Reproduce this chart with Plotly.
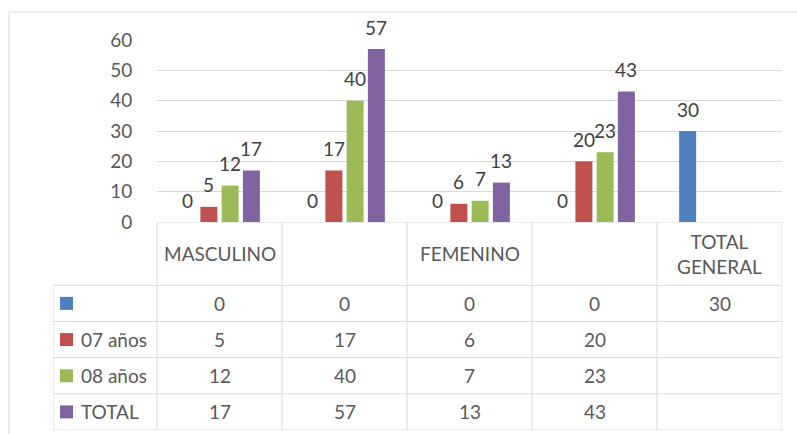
import plotly.graph_objects as go

# ---- data ----
categories = ["MASCULINO", "", "FEMENINO", "", "TOTAL<br>GENERAL"]
series_names = ["", "07 años", "08 años", "TOTAL"]
serie_blank = [0, 0, 0, 0, 30]
serie_07 = [5, 17, 6, 20, None]
serie_08 = [12, 40, 7, 23, None]
serie_total = [17, 57, 13, 43, None]
y_ticks = [0, 10, 20, 30, 40, 50, 60]

series_values = [serie_blank, serie_07, serie_08, serie_total]
colors = ["#4F81BD", "#C0504D", "#9BBB59", "#8064A2"]

W, H = 797, 434
def px(x):
    return x / W
def py(y):
    return 1 - y / H

FONT = "Lato"
TXT = "#595959"
LBL = "#404040"
GRID = "#D9D9D9"
FS = 19

plot_l, plot_r, plot_t, plot_b = 157, 782, 40, 222
tab_l, tab_b = 53, 430
ncat = len(categories)
cat_px = (plot_r - plot_l) / ncat
leg_w = (plot_l - tab_l) / cat_px
header_h = 1.75
nrows = len(series_names)

bargap, bargroupgap = 0.32, 0.2
nser = len(series_values)
slot = (1 - bargap) / nser

fig = go.Figure()
xs = list(range(ncat))
for name, vals, col in zip(series_names, series_values, colors):
    fig.add_trace(go.Bar(x=xs, y=vals, name=name, marker=dict(color=col, line=dict(width=0)),
                         showlegend=False, hoverinfo="y"))

annotations = []
# data labels
for i, vals in enumerate(series_values):
    for j, v in enumerate(vals):
        if v is None:
            continue
        annotations.append(dict(x=j + (i - (nser - 1) / 2) * slot, y=v, xref="x", yref="y",
                                text=str(v), showarrow=False, yanchor="middle", yshift=22,
                                font=dict(family=FONT, size=FS, color=LBL)))

# table header
for j, c in enumerate(categories):
    annotations.append(dict(x=j, y=header_h / 2, xref="x2", yref="y2", text=c, showarrow=False,
                            font=dict(family=FONT, size=FS, color=TXT)))
# table body
for r, (name, vals) in enumerate(zip(series_names, series_values)):
    yc = header_h + r + 0.5
    annotations.append(dict(x=-0.5 - leg_w + 26 / cat_px, y=yc, xref="x2", yref="y2", text=name,
                            showarrow=False, xanchor="left",
                            font=dict(family=FONT, size=FS, color=TXT)))
    for j, v in enumerate(vals):
        if v is None:
            continue
        annotations.append(dict(x=j, y=yc, xref="x2", yref="y2", text=str(v), showarrow=False,
                                font=dict(family=FONT, size=FS, color=TXT)))

# legend keys in table
fig.add_trace(go.Scatter(x=[-0.5 - leg_w + 13.5 / cat_px] * nrows,
                         y=[header_h + r + 0.5 for r in range(nrows)],
                         xaxis="x2", yaxis="y2", mode="markers",
                         marker=dict(symbol="square", size=13, color=colors, line=dict(width=0)),
                         showlegend=False, hoverinfo="skip", cliponaxis=False))

shapes = []
line = dict(color=GRID, width=1)
bottom = header_h + nrows
# horizontal lines
shapes.append(dict(type="line", xref="x2", yref="y2", x0=-0.5, x1=ncat - 0.5, y0=0, y1=0, line=line))
for r in range(nrows + 1):
    shapes.append(dict(type="line", xref="x2", yref="y2", x0=-0.5 - leg_w, x1=ncat - 0.5,
                       y0=header_h + r, y1=header_h + r, line=line))
# vertical lines
for k in range(ncat + 1):
    shapes.append(dict(type="line", xref="x2", yref="y2", x0=-0.5 + k, x1=-0.5 + k,
                       y0=0, y1=bottom, line=line))
shapes.append(dict(type="line", xref="x2", yref="y2", x0=-0.5 - leg_w, x1=-0.5 - leg_w,
                   y0=header_h, y1=bottom, line=line))
# chart border
shapes.append(dict(type="line", xref="paper", yref="paper", x0=px(9), x1=1, y0=py(12), y1=py(12), line=line))
shapes.append(dict(type="line", xref="paper", yref="paper", x0=px(9), x1=px(9), y0=py(12), y1=0, line=line))

fig.update_layout(
    template="none",
    width=W, height=H, autosize=False,
    margin=dict(l=0, r=0, t=0, b=0, pad=0, autoexpand=False),
    paper_bgcolor="white", plot_bgcolor="white", showlegend=False,
    barmode="group", bargap=bargap, bargroupgap=bargroupgap,
    xaxis=dict(domain=[px(plot_l), px(plot_r)], range=[-0.5, ncat - 0.5], showticklabels=False,
               showgrid=False, zeroline=False, showline=False, ticks="", automargin=False),
    yaxis=dict(domain=[py(plot_b), py(plot_t)], range=[0, 60], tickvals=y_ticks,
               showgrid=True, gridcolor=GRID, gridwidth=1, zeroline=False, showline=False,
               ticks="outside", ticklen=20, tickcolor="rgba(0,0,0,0)", automargin=False,
               tickfont=dict(family=FONT, size=FS, color=TXT)),
    xaxis2=dict(domain=[px(tab_l), px(plot_r)], range=[-0.5 - leg_w, ncat - 0.5], visible=False,
                anchor="y2", automargin=False),
    yaxis2=dict(domain=[py(tab_b), py(plot_b)], range=[bottom, 0], visible=False, anchor="x2",
                automargin=False),
    annotations=annotations, shapes=shapes,
)

fig.write_html("out.html", config={"responsive": False, "displayModeBar": False},
               post_script="document.body.style.margin='0';document.body.style.overflow='hidden';")
